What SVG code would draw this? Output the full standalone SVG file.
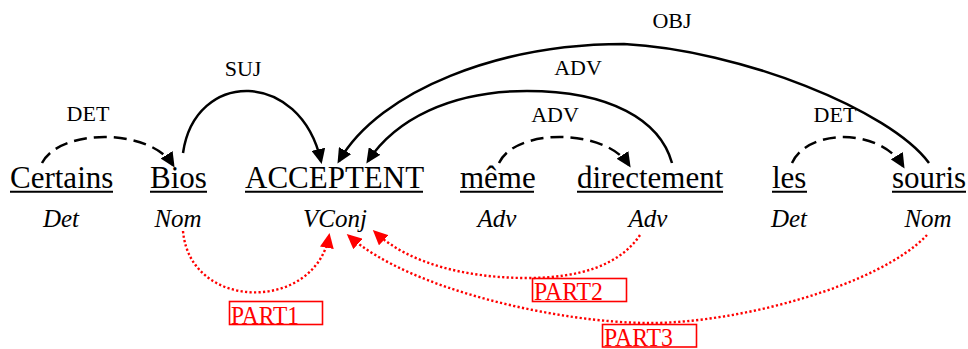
<svg xmlns="http://www.w3.org/2000/svg" width="968" height="349" viewBox="0 0 968 349">
<style>
.w{font-family:"Liberation Serif","Times New Roman",serif;font-size:31px;fill:#000}
.u{stroke:#000;stroke-width:2}
.p{font-family:"Liberation Serif","Times New Roman",serif;font-size:25px;font-style:italic;fill:#000;text-anchor:middle}
.l{font-family:"Liberation Serif","Times New Roman",serif;font-size:22px;fill:#000;text-anchor:middle}
.s{fill:none;stroke:#000;stroke-width:2.5;marker-end:url(#ah)}
.d{fill:none;stroke:#000;stroke-width:2.5;stroke-dasharray:13 7;marker-end:url(#ah)}
.r{fill:none;stroke:#ff0000;stroke-width:2.4;stroke-dasharray:2.2 2.3;marker-end:url(#rh)}
.rb{fill:none;stroke:#ff0000;stroke-width:1.6}
.rt{font-family:"Liberation Serif","Times New Roman",serif;font-size:25px;fill:#ff0000}
</style>
<defs>
<marker id="ah" markerUnits="userSpaceOnUse" markerWidth="15" markerHeight="14" refX="12" refY="7" orient="auto">
<path d="M0,0 L15,7 L0,14 z" fill="#000"/>
</marker>
<marker id="rh" markerUnits="userSpaceOnUse" markerWidth="15" markerHeight="14" refX="12" refY="7" orient="auto">
<path d="M0,0 L15,7 L0,14 z" fill="#ff0000"/>
</marker>
</defs>
<rect width="968" height="349" fill="#fff"/>
<g id="n-certains"><text class="w" x="10" y="188">Certains</text><line class="u" x1="10" y1="191.7" x2="113" y2="191.7"/><text class="p" x="61" y="227">Det</text></g>
<g id="n-bios"><text class="w" x="150" y="188">Bios</text><line class="u" x1="150" y1="191.7" x2="207" y2="191.7"/><text class="p" x="178" y="227">Nom</text></g>
<g id="n-acceptent"><text class="w" x="245" y="188">ACCEPTENT</text><line class="u" x1="245" y1="191.7" x2="423" y2="191.7"/><text class="p" x="335" y="227">VConj</text></g>
<g id="n-meme"><text class="w" x="460" y="188">même</text><line class="u" x1="460" y1="191.7" x2="534" y2="191.7"/><text class="p" x="497" y="227">Adv</text></g>
<g id="n-directement"><text class="w" x="577" y="188">directement</text><line class="u" x1="577" y1="191.7" x2="723" y2="191.7"/><text class="p" x="648" y="227">Adv</text></g>
<g id="n-les"><text class="w" x="772" y="188">les</text><line class="u" x1="772" y1="191.7" x2="807" y2="191.7"/><text class="p" x="789" y="227">Det</text></g>
<g id="n-souris"><text class="w" x="892" y="188">souris</text><line class="u" x1="892" y1="191.7" x2="966" y2="191.7"/><text class="p" x="928" y="227">Nom</text></g>
<g id="connectors">
<path class="d" d="M42,163 C60,128 150,128 173,165"/>
<text class="l" x="88" y="121">DET</text>
<path class="s" d="M183,153 C195,69 300,69 321,161"/>
<text class="l" x="243" y="76">SUJ</text>
<path class="s" d="M929,163 C890,110 740,50 624,44 C500,44 380,90 339,161"/>
<text class="l" x="672" y="28">OBJ</text>
<path class="s" d="M672,163 C660,120 610,91 527,91 C450,91 395,120 368,161"/>
<text class="l" x="578" y="75">ADV</text>
<path class="d" d="M499,163 C515,128 605,128 629,165"/>
<text class="l" x="555" y="122">ADV</text>
<path class="d" d="M792,163 C808,128 880,128 903,166"/>
<text class="l" x="835" y="122">DET</text>
<path class="r" d="M183,231 C190,312 315,312 329,236"/>
<rect class="rb" x="229.5" y="301.5" width="93" height="23"/>
<text class="rt" x="231" y="323.5" textLength="68" lengthAdjust="spacingAndGlyphs">PART1</text>
<path class="r" d="M640,235 C620,265 580,278 527,278 C470,278 410,265 375,232"/>
<rect class="rb" x="532.5" y="278.5" width="94" height="23"/>
<text class="rt" x="534" y="300" textLength="69" lengthAdjust="spacingAndGlyphs">PART2</text>
<path class="r" d="M927,235 C880,285 740,323 650,323 C560,323 410,290 349,236"/>
<rect class="rb" x="602.5" y="324.5" width="94" height="22.5"/>
<text class="rt" x="604" y="345.5" textLength="69" lengthAdjust="spacingAndGlyphs">PART3</text>
</g>
</svg>
